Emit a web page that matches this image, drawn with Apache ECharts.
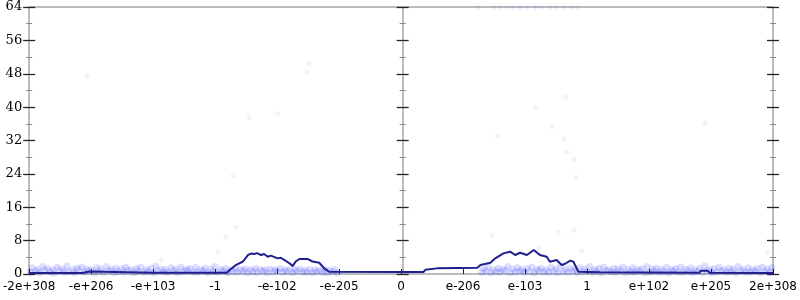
<!DOCTYPE html>
<html><head><meta charset="utf-8">
<script src="https://cdn.jsdelivr.net/npm/echarts@6/dist/echarts.min.js"></script>
<style>html,body{margin:0;padding:0;background:#fff}#c{width:800px;height:300px}</style>
</head><body><div id="c"></div>
<script>
var xTickLabels = ['-2e+308','-e+206','-e+103','-1','-e-102','-e-205','0','e-206','e-103','1','e+102','e+205','2e+308'];
var yTicks = [0, 64, 8];

var lineX = [-6.0,-5.15,-5.12,-5.02,-5.0,-4.0,-3.0,-2.81,-2.76,-2.66,-2.55,-2.47,-2.42,-2.37,-2.32,-2.26,-2.21,-2.15,-2.10,-1.99,-1.94,-1.88,-1.80,-1.75,-1.70,-1.64,-1.51,-1.43,-1.32,-1.24,-1.16,0,0.36,0.39,0.58,1.23,1.28,1.44,1.52,1.65,1.76,1.84,1.92,2.03,2.14,2.24,2.35,2.40,2.51,2.59,2.64,2.73,2.78,2.86,3.21,4.81,4.84,4.94,4.98,6.0];
var lineY = [0.25,0.25,0.6,0.6,0.25,0.3,0.3,0.3,1.0,2.2,3.0,4.55,4.9,4.8,5.0,4.55,4.8,4.15,4.4,3.75,3.9,3.35,2.55,1.9,3.0,3.6,3.6,3.0,2.7,1.35,0.55,0.45,0.45,1.0,1.35,1.5,2.15,2.7,3.75,4.95,5.35,4.55,5.1,4.55,5.75,4.55,4.15,2.95,3.35,2.15,2.4,3.2,2.95,0.55,0.4,0.3,0.8,0.8,0.3,0.25];

var bandPoints = [
[-5.98,0.4],[-5.9,0.7],[-5.83,0.3],[-5.75,0.9],[-5.66,0.5],[-5.6,0.2],[-5.51,0.8],[-5.43,0.4],[-5.36,0.6],[-5.27,0.3],[-5.2,0.9],[-5.11,0.5],[-5.04,0.7],[-4.95,0.3],[-4.88,0.6],[-4.8,0.4],[-4.71,0.8],[-4.63,0.3],[-4.56,0.6],[-4.47,0.5],[-4.4,0.9],[-4.31,0.3],[-4.24,0.7],[-4.15,0.4],[-4.08,0.6],[-3.99,0.3],[-3.92,0.8],[-3.83,0.5],[-3.76,0.4],[-3.67,0.7],[-3.6,0.3],[-3.51,0.6],[-3.44,0.9],[-3.35,0.4],[-3.28,0.5],[-3.19,0.8],[-3.12,0.3],[-3.03,0.6],[-2.96,0.4],[-2.87,0.7],[-2.8,0.3],[-2.71,0.6],[-2.64,0.5],[-2.55,0.8],[-2.48,0.3],[-2.39,0.6],[-2.32,0.4],[-2.23,0.7],[-2.16,0.3],[-2.07,0.5],[-2.0,0.8],[-1.91,0.4],[-1.84,0.6],[-1.75,0.3],[-1.68,0.7],[-1.59,0.4],[-1.52,0.5],[-1.43,0.3],[-1.36,0.6],[-1.27,0.4],[-1.2,0.3],[-1.11,0.5],[-1.03,0.3],
[-5.95,1.5],[-5.86,1.1],[-5.78,1.8],[-5.7,1.3],[-5.62,1.0],[-5.55,1.6],[-5.46,1.2],[-5.39,1.9],[-5.3,1.1],[-5.23,1.4],[-5.15,1.7],[-5.07,1.2],[-4.99,1.0],[-4.91,1.5],[-4.84,1.2],[-4.75,1.8],[-4.67,1.1],[-4.6,1.4],[-4.51,1.2],[-4.44,1.7],[-4.35,1.0],[-4.27,1.3],[-4.2,1.6],[-4.11,1.1],[-4.03,1.4],[-3.96,1.9],[-3.87,1.2],[-3.8,1.0],[-3.71,1.5],[-3.63,1.2],[-3.55,1.7],[-3.47,1.1],[-3.4,1.3],[-3.31,1.6],[-3.23,1.0],[-3.16,1.4],[-3.07,1.2],[-3.0,1.8],[-2.91,1.1],[-2.83,1.3],[-2.75,1.0],[-2.67,1.4],[-2.59,1.1],[-2.51,1.2],[-2.43,1.0],[-2.35,1.3],[-2.27,1.1],[-2.19,1.0],[-2.11,1.2],[-2.03,1.0],[-1.95,1.3],[-1.87,1.0],[-1.79,1.1],[-1.71,1.0],[-1.63,1.2],[-1.55,0.9],[-1.47,1.1],[-1.39,1.0],[-1.31,0.9],[-1.23,1.1],[-1.15,0.9],[-1.07,1.0],
[1.3,0.4],[1.37,0.7],[1.45,0.3],[1.53,0.6],[1.6,0.4],[1.68,0.8],[1.76,0.3],[1.84,0.5],[1.91,0.7],[1.99,0.4],[2.07,0.6],[2.15,0.3],[2.22,0.8],[2.3,0.5],[2.38,0.4],[2.46,0.7],[2.53,0.3],[2.61,0.6],[2.69,0.4],[2.77,0.8],[2.84,0.3],[2.92,0.5],[3.0,0.7],[3.08,0.4],[3.15,0.6],[3.23,0.3],[3.31,0.8],[3.39,0.5],[3.46,0.4],[3.54,0.7],[3.62,0.3],[3.7,0.6],[3.77,0.4],[3.85,0.8],[3.93,0.3],[4.01,0.5],[4.08,0.7],[4.16,0.4],[4.24,0.6],[4.32,0.3],[4.39,0.8],[4.47,0.5],[4.55,0.4],[4.63,0.7],[4.7,0.3],[4.78,0.6],[4.86,0.4],[4.94,0.8],[5.01,0.3],[5.09,0.5],[5.17,0.7],[5.25,0.4],[5.32,0.6],[5.4,0.3],[5.48,0.8],[5.56,0.5],[5.63,0.4],[5.71,0.7],[5.79,0.3],[5.87,0.6],[5.95,0.4],
[1.33,1.2],[1.41,1.6],[1.49,1.0],[1.57,1.4],[1.64,1.1],[1.72,1.8],[1.8,1.2],[1.88,1.5],[1.95,1.0],[2.03,1.3],[2.11,1.7],[2.19,1.1],[2.26,1.4],[2.34,1.0],[2.42,1.6],[2.5,1.2],[2.57,1.9],[2.65,1.1],[2.73,1.4],[2.81,1.0],[2.88,1.5],[2.96,1.2],[3.04,1.8],[3.12,1.1],[3.19,1.3],[3.27,1.6],[3.35,1.0],[3.43,1.4],[3.5,1.2],[3.58,1.7],[3.66,1.1],[3.74,1.5],[3.81,1.0],[3.89,1.3],[3.97,1.8],[4.05,1.2],[4.12,1.4],[4.2,1.1],[4.28,1.6],[4.36,1.0],[4.43,1.3],[4.51,1.7],[4.59,1.2],[4.67,1.5],[4.74,1.0],[4.82,1.4],[4.9,1.9],[4.98,1.1],[5.05,1.3],[5.13,1.6],[5.21,1.0],[5.29,1.4],[5.36,1.2],[5.44,1.8],[5.52,1.1],[5.6,1.5],[5.67,1.0],[5.75,1.3],[5.83,1.7],[5.91,1.2],[5.98,1.5]
];

var outlierPoints = [
[-5.07,47.5],[-1.48,50.5],[-1.52,48.4],[-1.99,38.5],[-2.45,37.5],[-2.71,23.6],[-2.67,11.2],[-2.83,8.8],[-2.95,5.3],[-3.87,3.4],
[2.66,42.4],[2.17,40.0],[2.43,35.3],[1.55,33.2],[2.63,32.3],[2.67,29.3],[2.79,27.5],[2.82,23.2],[1.47,9.3],[2.54,9.9],[2.79,10.5],[2.22,6.3],[2.91,5.6],[4.90,36.2],[5.91,5.1],
[1.23,63.8],[1.49,63.8],[1.60,63.8],[1.71,63.8],[1.81,63.8],[1.92,63.8],[2.03,63.8],[2.16,63.8],[2.27,63.8],[2.40,63.8],[2.51,63.8],[2.64,63.8],[2.76,63.8],[2.84,63.8]
];

var lineData = lineX.map(function(x, i){ return [x, lineY[i]]; });

function yAx(pos, offset, inside, labels) {
  return {
    type: 'value', position: pos, offset: offset,
    min: yTicks[0], max: yTicks[1], interval: yTicks[2],
    axisLine: { show: true, onZero: false, lineStyle: { color: '#bbbbbb', width: 2 } },
    axisTick: { show: true, inside: inside, length: 6, lineStyle: { color: '#222', width: 1.3 } },
    minorTick: { show: true, splitNumber: 2, length: 3, lineStyle: { color: '#888', width: 1 } },
    axisLabel: { show: labels, margin: 7, fontFamily: 'DejaVu Serif', fontSize: 13, color: '#000' },
    splitLine: { show: false }, minorSplitLine: { show: false }
  };
}

var chart = echarts.init(document.getElementById('c'), null, { renderer: 'canvas' });
chart.setOption({
  animation: false,
  grid: { left: 27, right: 26, top: 7, bottom: 26, containLabel: false },
  xAxis: [{
    type: 'value', min: -6, max: 6, interval: 1, position: 'bottom',
    axisLine: { show: true, onZero: false, lineStyle: { color: '#bbbbbb', width: 2 } },
    axisTick: { show: true, inside: true, length: 5, lineStyle: { color: '#222' } },
    axisLabel: { margin: 7, fontFamily: 'DejaVu Sans', fontSize: 12, color: '#000',
      formatter: function(v){ return xTickLabels[Math.round(v) + 6]; } },
    splitLine: { show: false }
  }, {
    type: 'value', min: -6, max: 6, position: 'top',
    axisLine: { show: true, onZero: false, lineStyle: { color: '#bbbbbb', width: 2 } },
    axisTick: { show: false }, axisLabel: { show: false }, splitLine: { show: false }
  }],
  yAxis: [
    yAx('left', 0, false, true),
    yAx('left', 0, true, false),
    yAx('left', -373.5, false, false),
    yAx('left', -373.5, true, false),
    yAx('right', 0, false, false),
    yAx('right', 0, true, false)
  ],
  series: [{
    type: 'scatter', data: bandPoints, symbolSize: 7, z: 2,
    itemStyle: { color: 'rgba(0,0,255,0.17)' }
  }, {
    type: 'scatter', data: outlierPoints, symbolSize: 5, z: 2,
    itemStyle: { color: 'rgba(0,0,255,0.07)' }
  }, {
    type: 'line', data: lineData, showSymbol: false, z: 5,
    lineStyle: { color: '#1f1f8f', width: 2 }
  }]
});
</script></body></html>
